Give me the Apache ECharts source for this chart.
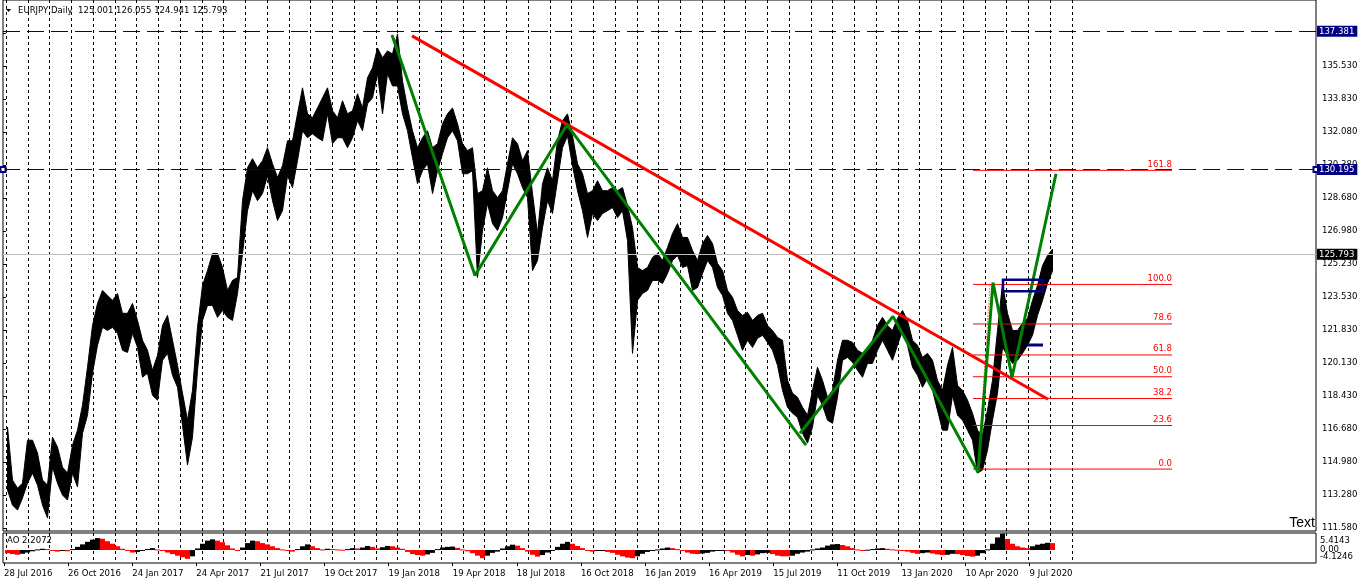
<!DOCTYPE html>
<html><head><meta charset="utf-8">
<script src="https://cdn.jsdelivr.net/npm/echarts@6/dist/echarts.min.js"></script>
<style>html,body{margin:0;padding:0;background:#fff}#c{width:1362px;height:585px}</style>
</head><body><div id="c"></div>
<script>
// ---------------- DATA ----------------
const symbolName = 'EURJPY,Daily';
const lastOHLC = ['125.001', '126.055', '124.941', '125.793'];
const BARS_PER_WEEK = 5; // one bucket = one trading week (bar index units)

// weekly highs / lows (price), first week starts 28 Jul 2016
const weekHigh = [
 116.82,114.07,113.65,113.91,116.14,116.14,115.47,114.07,113.81,116.30,
 115.78,114.74,114.43,115.88,116.66,117.96,119.93,122.10,123.24,123.92,
 123.66,123.40,123.76,122.73,122.73,123.24,122.36,121.33,120.81,119.77,
 120.55,122.10,122.62,121.33,120.03,118.58,117.18,118.73,122.00,124.18,
 124.95,125.84,125.84,125.11,123.92,124.44,124.59,128.58,130.29,130.76,
 130.29,130.66,131.33,130.50,129.78,130.40,131.69,131.69,133.09,134.44,
 133.09,132.89,133.40,133.92,134.44,133.25,132.89,133.77,133.09,133.25,
 134.13,133.40,134.96,135.48,136.51,136.00,136.36,136.20,137.24,134.80,
 133.40,132.21,131.33,131.85,132.21,131.33,131.54,132.57,133.09,133.40,
 132.57,131.54,131.18,131.33,128.95,129.10,130.29,129.10,128.74,129.10,
 130.50,131.85,131.54,130.66,131.18,128.95,126.87,129.46,130.29,129.62,
 131.69,132.73,133.09,131.95,130.50,129.98,128.95,129.10,129.62,129.10,
 129.10,129.26,129.10,129.26,128.32,127.18,125.11,124.95,125.11,125.63,
 125.84,125.47,126.15,126.87,127.39,126.67,126.67,125.99,125.47,126.35,
 126.77,126.35,125.32,124.95,123.92,123.56,122.88,122.62,122.78,122.36,
 122.62,122.73,122.10,121.84,121.48,121.33,119.25,118.58,118.37,117.85,
 117.44,118.73,119.93,119.25,118.37,118.73,120.29,121.33,121.33,121.22,
 120.81,120.65,120.81,121.33,122.10,122.52,122.10,121.84,122.47,122.88,
 122.36,121.33,121.07,120.44,120.65,120.29,119.25,118.73,120.03,120.96,
 118.99,118.73,118.22,117.54,116.66,116.40,117.70,119.25,121.84,124.28,
 122.73,121.84,121.84,122.21,122.47,123.40,124.18,125.21,125.73,126.06
];
const weekLow = [
 113.55,112.77,112.51,113.14,113.91,114.43,113.81,112.77,112.10,114.74,
 113.91,113.29,113.03,114.43,113.71,116.50,117.44,119.62,121.07,122.00,
 121.84,122.00,121.69,120.81,120.70,121.69,120.96,119.41,119.62,118.47,
 118.22,120.29,120.65,119.51,118.89,116.92,114.85,116.30,119.77,122.36,
 123.14,123.14,122.52,122.88,122.52,122.36,123.76,125.84,128.06,129.10,
 128.58,128.95,129.88,128.58,127.55,128.06,129.88,129.26,130.66,132.21,
 131.85,132.06,131.85,131.69,133.09,131.54,131.85,131.85,131.33,131.85,
 132.73,132.21,133.61,133.92,135.17,133.09,135.17,134.54,134.54,133.09,
 132.21,130.81,129.46,130.14,130.50,128.95,130.14,131.02,131.85,132.21,
 131.69,129.98,129.98,130.14,124.59,127.03,128.43,127.39,127.03,127.70,
 129.10,130.50,129.98,129.26,128.74,124.95,125.47,127.18,128.58,127.91,
 129.62,131.33,131.95,130.40,129.10,128.06,126.67,127.91,127.55,127.91,
 128.06,128.22,127.70,128.06,126.51,120.65,123.40,123.76,123.92,124.44,
 124.44,124.28,124.80,125.47,125.73,125.11,125.21,123.92,124.07,124.80,
 125.47,125.11,124.07,123.66,122.73,122.36,121.59,120.81,121.33,120.96,
 121.43,121.59,121.22,120.81,120.03,118.73,117.85,117.54,117.33,116.50,
 115.99,116.82,118.47,117.96,117.18,117.02,118.37,120.29,120.44,120.19,
 119.77,119.41,120.13,120.13,120.81,121.33,120.81,120.29,121.07,121.84,
 121.07,119.93,119.51,118.89,119.36,118.73,117.70,116.66,116.66,118.47,
 117.44,117.18,116.66,116.14,114.43,114.59,115.62,117.18,118.58,120.96,
 120.55,120.13,120.29,120.65,121.07,121.59,122.62,123.40,124.28,124.94
];

// Awesome Oscillator, weekly
const aoWeekly = [
 -1.0,-1.3,-1.5,-1.2,-0.8,-0.4, 0.2,0.4,0.3,-0.3,-0.5,-0.2, -0.4,0.3,
 1.0,1.8,2.6,3.3,3.8,3.6, 2.8,2.0,1.2,0.4, -0.3,-0.8,-0.6,-0.2, 0.3,0.6,0.2,-0.2,
 -0.8,-1.3,-1.8,-2.3,-2.8,-2.0, 0.5,2.0,3.0,3.4,3.0,2.5, 1.5,0.5,-0.3,
 0.8,2.2,3.0,2.8,2.2,1.8, 1.2,0.6,0.2,-0.3,-0.5, 0.3,1.2,1.8,1.2,0.6,0.2,
 0.4,0.3,0.2,0.1,0.3,0.6, 0.5,0.8,1.3,1.0,0.5, 0.9,1.3,1.2,0.8,0.4,
 -0.6,-1.3,-1.6,-1.8,-1.4,-0.9, 0.3,0.8,1.0,1.1,0.7,0.2,
 -0.4,-1.0,-1.8,-2.6,-1.8,-0.9,-0.5, 0.5,1.2,1.7,1.4,0.6,
 -0.5,-1.5,-2.1,-1.6,-0.8,-0.2, 1.0,2.0,2.6,2.0,1.3,0.6,
 -0.3,-0.5,-0.3,-0.2,-0.6,-0.9, -1.5,-2.0,-2.4,-2.6,-2.0,-1.2,-0.6,
 -0.2,0.2,0.5,0.8,0.6,0.3, -0.3,-0.8,-1.2,-1.3,-1.1,-0.9,-0.5,
 -0.2,-0.1,-0.3,-0.8,-1.5,-2.0,-1.6, -1.8,-1.4,-1.0,-0.9,-1.3,-1.8,-2.0,
 -2.0,-1.8,-1.2,-0.8,-0.5,0.2,0.5, 0.8,1.4,1.8,1.9,1.6,1.2,0.6,0.2,0.0,
 0.1,0.3,0.5,0.6,0.4,0.2,0.1,-0.2,-0.5, -0.9,-1.2,-1.0,-0.8,-1.1,-1.4,-1.6,-1.5,
 -1.2,-1.3,-1.6,-1.9,-2.1,-1.8,-1.0,0.2, 2.0,4.0,5.2,3.5, 2.0,1.2,0.8,0.6,
 1.2,1.7,2.0,2.3,2.2
];
const aoLast = '2.2072';
const aoMax = 5.4143, aoMin = -4.1246;

const priceTickLabels = ['111.580','113.280','114.980','116.680','118.430','120.130','121.830','123.530',
  '125.230','126.980','128.680','130.380','132.080','133.830','135.530','137.230'];
const dateLabels = ['28 Jul 2016','26 Oct 2016','24 Jan 2017','24 Apr 2017','21 Jul 2017','19 Oct 2017',
  '19 Jan 2018','19 Apr 2018','18 Jul 2018','16 Oct 2018','16 Jan 2019','16 Apr 2019','15 Jul 2019',
  '11 Oct 2019','13 Jan 2020','10 Apr 2020','9 Jul 2020'];

// horizontal levels
const levelHigh = 137.381, levelMid = 130.195, levelLast = 125.793;

// drawn objects: [bar index, price]
const zigzagA = [[387,137.19],[470,124.70],[562,132.52],[801,115.88]];
const zigzagB = [[795,116.50],[888,122.57],[973,114.48],[988,124.33],[1007,119.41],[1051,129.98]];
const trendLine = [[407,137.14],[1043,118.27]];
const fibAnchors = [[973,114.64],[985,124.23]];
const fibLevelSpan = [968, 1167];
const fibRatios = [0, 23.6, 38.2, 50, 61.8, 78.6, 100, 161.8];
const boxCorners = [[998,124.47],[1038,123.88]];
const navySegment = [[1022,121.09],[1038,121.09]];

// ---------------- CHART ----------------
const FONT = '"DejaVu Sans Condensed", "Liberation Sans", sans-serif';
const FS = 9.5;
const NAVY = '#000080';
const chart = echarts.init(document.getElementById('c'), null, {renderer: 'canvas'});

const hidden = {show: false};
const noSplit = {show: false};
const priceX = {type: 'value', min: -2, max: 1311, show: false, splitLine: noSplit};
const gridlineX = (gi) => ({type: 'value', gridIndex: gi, min: 0, max: 49, interval: 1,
  axisLine: hidden, axisTick: hidden, axisLabel: hidden,
  splitLine: {show: true, lineStyle: {color: '#000', type: [3, 3], width: 1}}});

const fibZero = fibAnchors[0][1], fibHundred = fibAnchors[1][1];
const fibPrice = r => fibZero + r / 100 * (fibHundred - fibZero);

function levelSeries(value, color, dash, bg, sym) {
  return {type: 'line', xAxisIndex: 0, yAxisIndex: 0, data: [], z: 4, silent: true,
    markLine: {silent: true, animation: false, precision: 3, symbol: sym, symbolSize: 5,
      lineStyle: {color: color, type: dash, width: 1},
      label: {show: true, position: 'end', distance: 1, formatter: value.toFixed(3), color: '#fff',
        backgroundColor: bg, padding: [1, 3, 0, 2], fontFamily: FONT, fontSize: FS},
      data: [{yAxis: value}]}};
}

const fibLineSeries = fibRatios.map(r => ({
  type: 'line', xAxisIndex: 0, yAxisIndex: 0, z: 5, silent: true, symbol: 'none',
  data: [[fibLevelSpan[0], fibPrice(r)], [fibLevelSpan[1], fibPrice(r)]],
  lineStyle: {color: '#FF0000', width: 1}
}));

const option = {
  animation: false,
  backgroundColor: '#fff',
  grid: [
    {left: 3, top: -1, width: 1313, height: 532, show: true, borderColor: '#000', borderWidth: 1, backgroundColor: 'transparent'},
    {left: 6, top: 0, width: 1066, height: 531},
    {left: 3, top: 533, width: 1313, height: 30, show: true, borderColor: '#000', borderWidth: 1, backgroundColor: 'transparent'},
    {left: 6, top: 533, width: 1066, height: 30},
    {left: 4, top: 533, width: 1025.6, height: 30},
    {left: 3, top: 33, width: 1313, height: 495}
  ],
  xAxis: [
    Object.assign({gridIndex: 0}, priceX),
    gridlineX(1),
    Object.assign({gridIndex: 2}, priceX),
    gridlineX(3),
    {type: 'value', gridIndex: 4, min: 0, max: dateLabels.length - 1, interval: 1, position: 'bottom',
      axisLine: hidden, splitLine: noSplit,
      axisTick: {show: true, length: 3, inside: false, lineStyle: {color: '#000'}},
      axisLabel: {show: true, align: 'left', margin: 6, color: '#000', fontFamily: FONT, fontSize: FS,
        showMinLabel: true, showMaxLabel: true,
        formatter: v => dateLabels[Math.round(v)] || ''}},
    {type: 'value', gridIndex: 5, min: 0, max: 1, show: false, splitLine: noSplit}
  ],
  yAxis: [
    {type: 'value', gridIndex: 0, min: 111.424, max: 139.003, show: false, splitLine: noSplit},
    {type: 'value', gridIndex: 1, min: 0, max: 1, show: false, splitLine: noSplit},
    {type: 'value', gridIndex: 2, min: aoMin, max: aoMax, show: false, splitLine: noSplit},
    {type: 'value', gridIndex: 3, min: 0, max: 1, show: false, splitLine: noSplit},
    {type: 'value', gridIndex: 4, min: 0, max: 1, show: false, splitLine: noSplit},
    {type: 'value', gridIndex: 5, min: 0, max: priceTickLabels.length - 1, interval: 1, position: 'right',
      axisLine: hidden, splitLine: noSplit,
      axisTick: {show: true, length: 3, inside: false, lineStyle: {color: '#000'}},
      axisLabel: {show: true, margin: 6, color: '#000', fontFamily: FONT, fontSize: FS,
        showMinLabel: true, showMaxLabel: true,
        formatter: v => priceTickLabels[Math.round(v)] || ''}}
  ],
  series: [
    // price band (weekly high-low)
    {type: 'custom', xAxisIndex: 0, yAxisIndex: 0, z: 3, silent: true,
      data: [[0, weekHigh[0]]],
      renderItem: function (params, api) {
        const top = weekHigh.map((h, k) => api.coord([k * BARS_PER_WEEK + BARS_PER_WEEK / 2, h]));
        const bot = weekLow.map((l, k) => api.coord([k * BARS_PER_WEEK + BARS_PER_WEEK / 2, l])).reverse();
        return {type: 'polygon', shape: {points: top.concat(bot)},
          style: {fill: '#000', stroke: '#000', lineWidth: 1}};
      }},
    levelSeries(levelLast, '#C0C0C0', 'solid', '#000', ['none', 'none']),
    levelSeries(levelHigh, NAVY, [17, 7], NAVY, ['none', 'none']),
    levelSeries(levelMid, NAVY, [17, 7], NAVY, ['emptyRect', 'emptyRect']),
    ...fibLineSeries,
    // fibonacci level labels
    {type: 'custom', xAxisIndex: 0, yAxisIndex: 0, z: 5, silent: true,
      data: fibRatios.map(r => [fibLevelSpan[1], fibPrice(r), r]),
      encode: {x: 0, y: 1},
      renderItem: function (params, api) {
        const b = api.coord([api.value(0), api.value(1)]);
        return {type: 'text', x: b[0], y: b[1] - 1,
          style: {text: api.value(2).toFixed(1), fill: '#FF0000', align: 'right', verticalAlign: 'bottom',
            font: FS + 'px ' + FONT}};
      }},
    {type: 'line', xAxisIndex: 0, yAxisIndex: 0, z: 5, data: fibAnchors, symbol: 'none', silent: true,
      lineStyle: {color: '#FF0000', width: 1, type: [1, 2]}},
    // red trend line
    {type: 'line', xAxisIndex: 0, yAxisIndex: 0, z: 6, data: trendLine, symbol: 'none', silent: true,
      lineStyle: {color: '#FF0000', width: 3}},
    // zigzag
    {type: 'line', xAxisIndex: 0, yAxisIndex: 0, z: 7, data: zigzagA, symbol: 'none', silent: true,
      lineStyle: {color: '#008000', width: 3}},
    {type: 'line', xAxisIndex: 0, yAxisIndex: 0, z: 7, data: zigzagB, symbol: 'none', silent: true,
      lineStyle: {color: '#008000', width: 3}},
    // navy rectangle and segment
    {type: 'custom', xAxisIndex: 0, yAxisIndex: 0, z: 8, silent: true,
      data: [[boxCorners[0][0], boxCorners[0][1], boxCorners[1][0], boxCorners[1][1]]],
      encode: {x: [0, 2], y: [1, 3]},
      renderItem: function (params, api) {
        const p1 = api.coord([api.value(0), api.value(1)]);
        const p2 = api.coord([api.value(2), api.value(3)]);
        return {type: 'rect', shape: {x: Math.min(p1[0], p2[0]), y: Math.min(p1[1], p2[1]),
          width: Math.abs(p2[0] - p1[0]), height: Math.abs(p2[1] - p1[1])},
          style: {fill: 'none', stroke: NAVY, lineWidth: 2.5}};
      }},
    {type: 'line', xAxisIndex: 0, yAxisIndex: 0, z: 8, data: navySegment, symbol: 'none', silent: true,
      lineStyle: {color: NAVY, width: 3}},
    // AO histogram
    {type: 'custom', xAxisIndex: 2, yAxisIndex: 2, z: 3, silent: true,
      data: aoWeekly.map((v, k) => [k * BARS_PER_WEEK + BARS_PER_WEEK / 2, v]),
      encode: {x: 0, y: 1},
      renderItem: function (params, api) {
        const k = params.dataIndex;
        const x = api.value(0), v = api.value(1);
        const prev = k > 0 ? aoWeekly[k - 1] : v;
        const p0 = api.coord([x - BARS_PER_WEEK / 2, 0]);
        const p1 = api.coord([x + BARS_PER_WEEK / 2, v]);
        return {type: 'rect', shape: {x: p0[0], y: Math.min(p0[1], p1[1]), width: p1[0] - p0[0],
          height: Math.max(1, Math.abs(p1[1] - p0[1]))},
          style: {fill: v > prev ? '#000' : '#FF0000'}};
      }}
  ],
  graphic: [
    {type: 'polygon', shape: {points: [[6, 9], [11, 9], [8.5, 12]]}, style: {fill: '#000'}},
    {type: 'text', left: 18, top: 6, style: {text: symbolName + '  ' + lastOHLC.join(' '), fill: '#000',
      font: FS + 'px ' + FONT}},
    {type: 'text', left: 7, top: 536, style: {text: 'AO ' + aoLast, fill: '#000', font: FS + 'px ' + FONT}},
    {type: 'text', x: 1320, y: 541, style: {text: aoMax.toFixed(4), fill: '#000', font: FS + 'px ' + FONT, verticalAlign: 'middle'}},
    {type: 'text', x: 1320, y: 550, style: {text: '0.00', fill: '#000', font: FS + 'px ' + FONT, verticalAlign: 'middle'}},
    {type: 'text', x: 1320, y: 557, style: {text: aoMin.toFixed(4), fill: '#000', font: FS + 'px ' + FONT, verticalAlign: 'middle'}},
    {type: 'text', x: 1315, y: 530, style: {text: 'Text', fill: '#000', font: '14px "Liberation Sans", Arial, sans-serif',
      align: 'right', verticalAlign: 'bottom'}}
  ]
};
chart.setOption(option);
</script>
</body></html>
